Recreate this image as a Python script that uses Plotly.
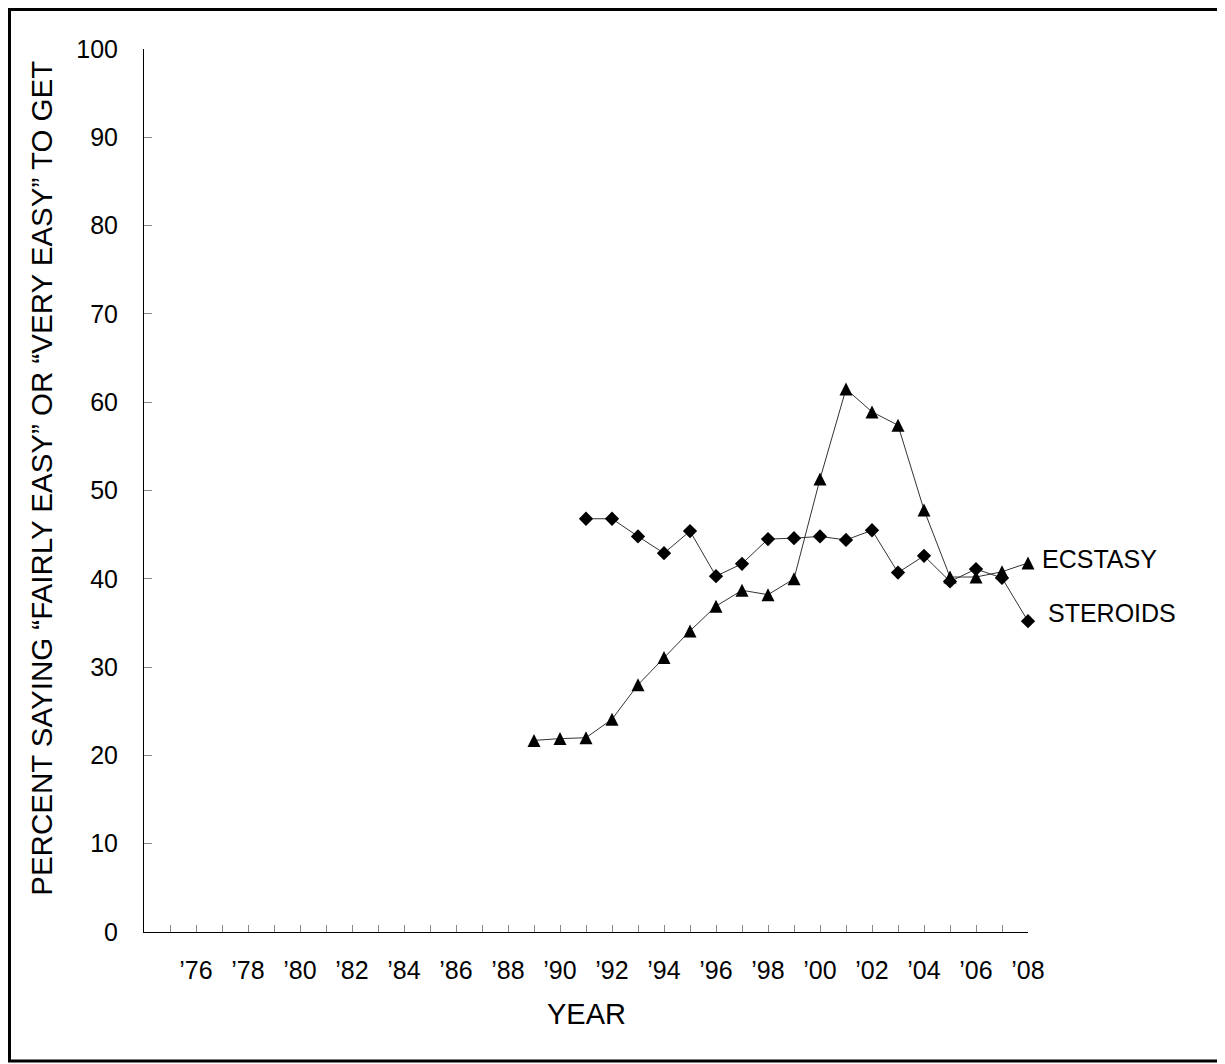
import plotly.graph_objects as go

# ---- data ----
ecstasy_years = list(range(1989, 2009))
ecstasy_vals = [21.7, 21.9, 22.0, 24.1, 28.0, 31.1, 34.1, 36.9, 38.7, 38.2,
                40.0, 51.3, 61.5, 58.9, 57.4, 47.8, 40.2, 40.2, 40.8, 41.8]

steroids_years = list(range(1991, 2009))
steroids_vals = [46.8, 46.8, 44.8, 42.9, 45.4, 40.3, 41.7, 44.5, 44.6, 44.8,
                 44.4, 45.5, 40.7, 42.6, 39.7, 41.1, 40.1, 35.2]

tick_years = list(range(1975, 2009))
tick_text = [("’" + str(y)[2:]) if y % 2 == 0 else "" for y in tick_years]
y_ticks = list(range(0, 101, 10))

# ---- layout geometry (screen pixels; page body has an 8px margin) ----
OFF = 8
W, H = 1225 - OFF, 1064 - OFF
L, R, T, B = 144, 1028, 49, 932.5
pw, ph = R - L, B - T

def px(x):
    return (x - L) / pw

def py(y):
    return (B - y) / ph

FONT = "Liberation Sans, Arial, sans-serif"
TRI = 13

fig = go.Figure()
fig.add_trace(go.Scatter(
    x=steroids_years, y=steroids_vals, mode="lines+markers", name="STEROIDS",
    line=dict(color="#333333", width=1),
    marker=dict(symbol="diamond", size=11, color="black"),
    cliponaxis=False,
))
fig.add_trace(go.Scatter(
    x=ecstasy_years, y=ecstasy_vals, mode="lines+markers", name="ECSTASY",
    line=dict(color="#333333", width=1, backoff=0),
    marker=dict(symbol="arrow-down", angle=180, standoff=TRI / 2, size=TRI, color="black"),
    cliponaxis=False,
))

fig.update_layout(
    width=W, height=H,
    margin=dict(l=L - OFF, r=W - (R - OFF), t=T - OFF, b=H - (B - OFF), autoexpand=False),
    paper_bgcolor="white", plot_bgcolor="white",
    showlegend=False,
    font=dict(family=FONT, color="black", size=25),
    xaxis=dict(
        range=[1974, 2008], showgrid=False, zeroline=False,
        showline=True, linecolor="black", linewidth=1,
        tickmode="array", tickvals=tick_years, ticktext=tick_text,
        ticks="inside", ticklen=7, tickcolor="#888888", tickwidth=1,
        tickfont=dict(size=25, family=FONT, color="black"),
        ticklabelstandoff=16,
    ),
    yaxis=dict(
        range=[0, 100], showgrid=False, zeroline=False,
        showline=True, linecolor="black", linewidth=1,
        tickmode="array", tickvals=y_ticks,
        ticks="inside", ticklen=8, tickcolor="#888888", tickwidth=1,
        tickfont=dict(size=25, family=FONT, color="black"),
        ticklabelstandoff=20,
    ),
    annotations=[
        dict(text="YEAR", xref="paper", yref="paper", x=px(586), y=py(1015),
             showarrow=False, font=dict(size=29, family=FONT), xanchor="center", yanchor="middle"),
        dict(text="PERCENT SAYING “FAIRLY EASY” OR “VERY EASY” TO GET",
             xref="paper", yref="paper", x=px(42), y=py(479), textangle=-90,
             showarrow=False, font=dict(size=29.5, family=FONT), xanchor="center", yanchor="middle"),
        dict(text="ECSTASY", xref="paper", yref="paper", x=px(1040), y=py(559),
             showarrow=False, font=dict(size=25, family=FONT), xanchor="left", yanchor="middle"),
        dict(text="STEROIDS", xref="paper", yref="paper", x=px(1046), y=py(613),
             showarrow=False, font=dict(size=25, family=FONT), xanchor="left", yanchor="middle"),
    ],
    shapes=[
        dict(type="rect", xref="paper", yref="paper",
             x0=px(OFF + 1.5), x1=px(1240), y0=py(1061.5), y1=py(OFF + 1.5),
             line=dict(color="black", width=3), fillcolor="rgba(0,0,0,0)", layer="below"),
    ],
)

fig.write_html("out.html")
